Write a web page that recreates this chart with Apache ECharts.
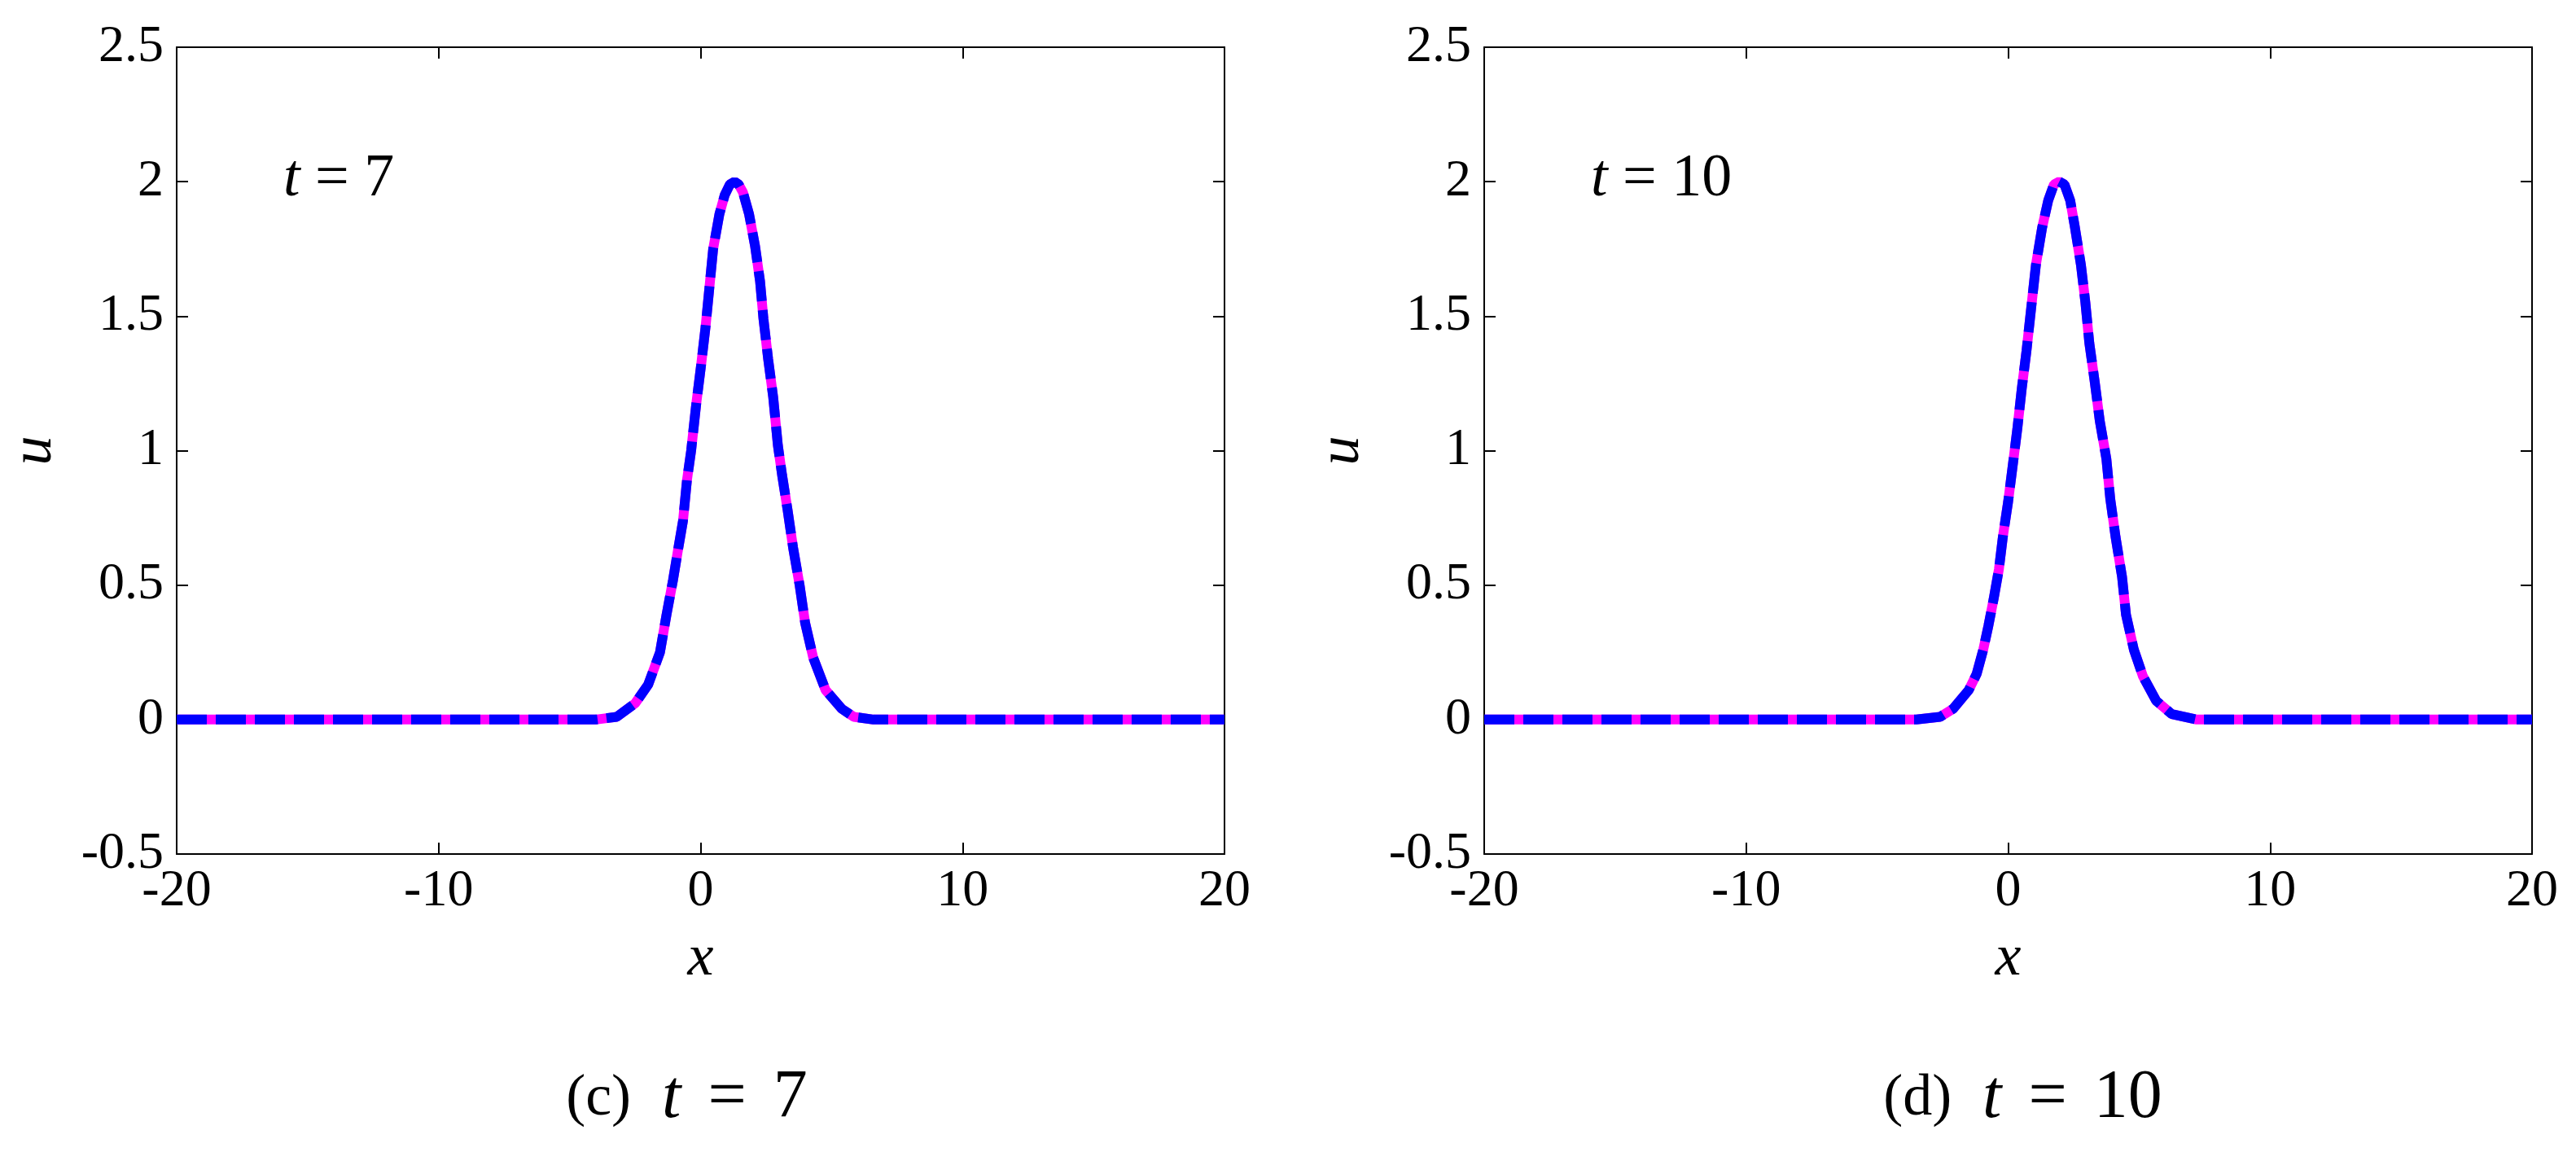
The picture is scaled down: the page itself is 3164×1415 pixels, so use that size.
<!DOCTYPE html>
<html>
<head>
<meta charset="utf-8">
<title>u(x, t) at t = 7 and t = 10</title>
<script src="https://cdn.jsdelivr.net/npm/echarts@6/dist/echarts.min.js"></script>
<style>
  html, body { margin: 0; padding: 0; background: #fff; }
  #chart { width: 3164px; height: 1415px; }
</style>
</head>
<body>
<div id="chart"></div>
<script>
// tick values of both panels
const xTicks = [-20, -10, 0, 10, 20]
const yTicks = [-0.5, 0, 0.5, 1, 1.5, 2, 2.5]

// (c) t = 7
const x7 = [-20, -4.0, -3.2, -2.5, -2.0, -1.55, -1.3, -1.05, -0.88, -0.67, -0.52, -0.36, -0.17, 0.01, 0.19, 0.33,
  0.48, 0.72, 0.92, 1.12, 1.3, 1.45, 1.62, 1.85, 2.08, 2.27, 2.4, 2.58, 2.77, 2.95, 3.11, 3.32, 3.53, 3.78, 3.99,
  4.3, 4.77, 5.39, 5.85, 6.6, 20]
const u7 = [0, 0, 0.01, 0.06, 0.13, 0.25, 0.39, 0.52, 0.62, 0.74, 0.89, 1.0, 1.17, 1.31, 1.46, 1.6,
  1.75, 1.88, 1.95, 1.99, 2.0, 1.99, 1.96, 1.88, 1.76, 1.63, 1.49, 1.34, 1.2, 1.02, 0.91, 0.78, 0.64, 0.5, 0.36,
  0.23, 0.11, 0.04, 0.01, 0, 0]

// (d) t = 10
const x10 = [-20, -3.5, -2.6, -2.1, -1.5, -1.2, -0.95, -0.75, -0.55, -0.35, -0.2, 0.0, 0.17, 0.35, 0.52, 0.7,
  0.88, 1.06, 1.3, 1.53, 1.75, 1.95, 2.15, 2.37, 2.55, 2.78, 2.95, 3.1, 3.3, 3.5, 3.75, 3.9, 4.1, 4.35, 4.5, 4.8,
  5.15, 5.65, 6.25, 7.2, 20]
const u10 = [0, 0, 0.01, 0.04, 0.11, 0.17, 0.26, 0.35, 0.45, 0.56, 0.68, 0.81, 0.94, 1.08, 1.23, 1.37,
  1.53, 1.69, 1.83, 1.93, 1.99, 2.0, 1.99, 1.93, 1.83, 1.69, 1.55, 1.4, 1.26, 1.11, 0.97, 0.82, 0.68, 0.53, 0.39, 0.26,
  0.16, 0.07, 0.02, 0, 0]

const panels = [
  { tag: '(c)', t: '7', xs: x7, us: u7 },
  { tag: '(d)', t: '10', xs: x10, us: u10 }
]

const FONT = "'Liberation Serif', 'Times New Roman', serif"
const gridLeft = [217, 1823]
const gridTop = 58
const gridW = 1287
const gridH = 991

const black = { color: '#000', width: 2 }

const xAxisFor = (i, pos) => ({
  gridIndex: i,
  type: 'value',
  position: pos,
  min: xTicks[0],
  max: xTicks[xTicks.length - 1],
  interval: xTicks[1] - xTicks[0],
  axisLine: { show: true, onZero: false, lineStyle: black },
  axisTick: { show: true, inside: true, length: 14, lineStyle: black },
  axisLabel: { show: pos === 'bottom', fontFamily: FONT, fontSize: 64, color: '#000', margin: 14 },
  splitLine: { show: false },
  name: pos === 'bottom' ? 'x' : '',
  nameLocation: 'middle',
  nameGap: 93,
  nameTextStyle: { fontFamily: FONT, fontStyle: 'italic', fontSize: 72, color: '#000' }
})

const yAxisFor = (i, pos) => ({
  gridIndex: i,
  type: 'value',
  position: pos,
  min: yTicks[0],
  max: yTicks[yTicks.length - 1],
  interval: yTicks[1] - yTicks[0],
  axisLine: { show: true, onZero: false, lineStyle: black },
  axisTick: { show: true, inside: true, length: 14, lineStyle: black },
  axisLabel: { show: pos === 'left', fontFamily: FONT, fontSize: 64, color: '#000', margin: 16 },
  splitLine: { show: false },
  name: pos === 'left' ? 'u' : '',
  nameLocation: 'middle',
  nameRotate: 90,
  nameGap: 138,
  nameTextStyle: { fontFamily: FONT, fontStyle: 'italic', fontSize: 72, color: '#000' }
})

const chart = echarts.init(document.getElementById('chart'), null, { renderer: 'canvas' })

const series = []
panels.forEach((p, i) => {
  const pts = p.xs.map((x, k) => [x, p.us[k]])
  // exact solution underneath, numerical one dashed on top
  series.push({
    name: 'Exact ' + p.tag, type: 'line', xAxisIndex: i * 2, yAxisIndex: i * 2,
    data: pts, showSymbol: false, smooth: false,
    lineStyle: { color: '#FF00FF', width: 12 }
  })
  series.push({
    name: 'Numerical ' + p.tag, type: 'line', xAxisIndex: i * 2, yAxisIndex: i * 2,
    data: pts, showSymbol: false, smooth: false,
    lineStyle: { color: '#0000FF', width: 12, type: [37, 11] }
  })
})

const graphic = []
panels.forEach((p, i) => {
  graphic.push({
    type: 'text', x: gridLeft[i] + 131, y: 221,
    style: {
      text: '{i|t} = ' + p.t, font: "74px 'Liberation Serif', serif", fill: '#000',
      align: 'left', verticalAlign: 'middle',
      rich: { i: { fontFamily: FONT, fontStyle: 'italic', fontSize: 74, fill: '#000' } }
    }
  })
  graphic.push({
    type: 'text', x: gridLeft[i] + gridW / 2 + (i === 0 ? -17 : 18), y: 1350,
    style: {
      text: '{a|' + p.tag + '}{m|t}{g|=}{n|' + p.t + '}',
      fill: '#000', align: 'center', verticalAlign: 'middle',
      rich: {
        a: { fontFamily: FONT, fontSize: 72, padding: [0, 38, 0, 0] },
        m: { fontFamily: FONT, fontStyle: 'italic', fontSize: 84 },
        g: { fontFamily: FONT, fontSize: 84, padding: [0, 33, 0, 33] },
        n: { fontFamily: FONT, fontSize: 84 }
      }
    }
  })
})

chart.setOption({
  animation: false,
  backgroundColor: '#fff',
  grid: gridLeft.map(l => ({ left: l, top: gridTop, width: gridW, height: gridH, containLabel: false })),
  xAxis: [xAxisFor(0, 'bottom'), xAxisFor(0, 'top'), xAxisFor(1, 'bottom'), xAxisFor(1, 'top')],
  yAxis: [yAxisFor(0, 'left'), yAxisFor(0, 'right'), yAxisFor(1, 'left'), yAxisFor(1, 'right')],
  series,
  graphic
})
</script>
</body>
</html>
